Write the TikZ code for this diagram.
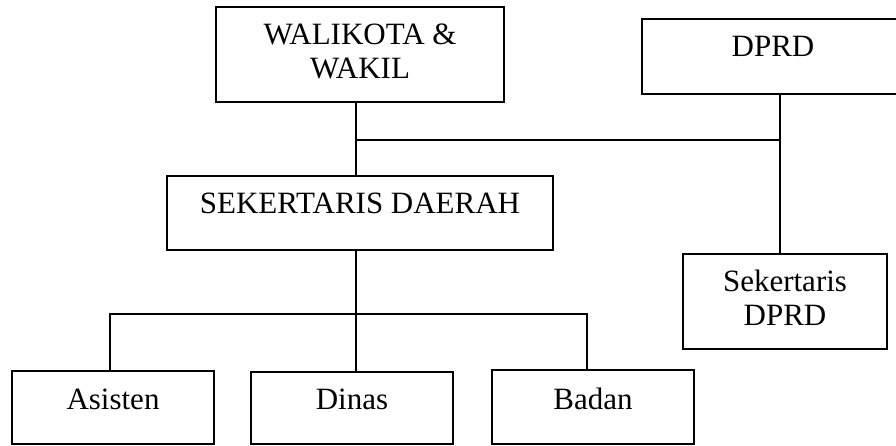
\documentclass[tikz,border=0pt]{standalone}
\usepackage{fontspec}
\setmainfont{Liberation Serif}
\tikzset{kotak/.style={draw,line width=1.2pt,inner sep=0pt},
  teks/.style={inner sep=0pt,outer sep=0pt,align=center,font=\fontsize{31}{34}\selectfont}}

\begin{document}
\begin{tikzpicture}[x=1pt,y=-1pt,line width=1.2pt]
   \useasboundingbox (0,0) rectangle (896,445);
   % kotak
   \node[kotak,minimum width=288pt,minimum height=95pt] (walikota) at (360,54.5) {};
   \node[kotak,minimum width=262pt,minimum height=75pt] (dprd) at (773,56.5) {};
   \node[kotak,minimum width=386pt,minimum height=74pt] (sekda) at (360,213) {};
   \node[kotak,minimum width=204pt,minimum height=95pt] (sekdprd) at (785,301.5) {};
   \node[kotak,minimum width=202pt,minimum height=73pt] (asisten) at (113,407.5) {};
   \node[kotak,minimum width=202pt,minimum height=72pt] (dinas) at (352,408) {};
   \node[kotak,minimum width=202pt,minimum height=74pt] (badan) at (593,407) {};

   % teks
   \node[teks,anchor=north] (twalikota) at ([yshift=-17pt]walikota.north) {WALIKOTA \&\\WAKIL};
   \node[teks,anchor=base] (tdprd) at ([yshift=-38pt]dprd.north) {DPRD};
   \node[teks,anchor=base] (tsekda) at ([yshift=-38pt]sekda.north) {SEKERTARIS DAERAH};
   \node[teks,anchor=north] (tsekdprd) at ([yshift=-17pt]sekdprd.north) {Sekertaris\\DPRD};
   \node[teks,anchor=base] (tasisten) at ([yshift=-39pt]asisten.north) {Asisten};
   \node[teks,anchor=base] (tdinas) at ([yshift=-38pt]dinas.north) {Dinas};
   \node[teks,anchor=base] (tbadan) at ([yshift=-40pt]badan.north) {Badan};

   % garis
   \coordinate (j1) at (356,140);
   \coordinate (j2) at (780,140);
   \coordinate (kiri) at (110,314);
   \coordinate (kanan) at (587,314);
   \draw (walikota.south -| j1) -- (sekda.north -| j1);
   \draw (j1) -- (j2);
   \draw (dprd.south -| j2) -- (sekdprd.north -| j2);
   \draw (sekda.south -| j1) -- (dinas.north -| j1);
   \draw (asisten.north -| kiri) -- (kiri) -- (kanan) -- (badan.north -| kanan);
\end{tikzpicture}
\end{document}
